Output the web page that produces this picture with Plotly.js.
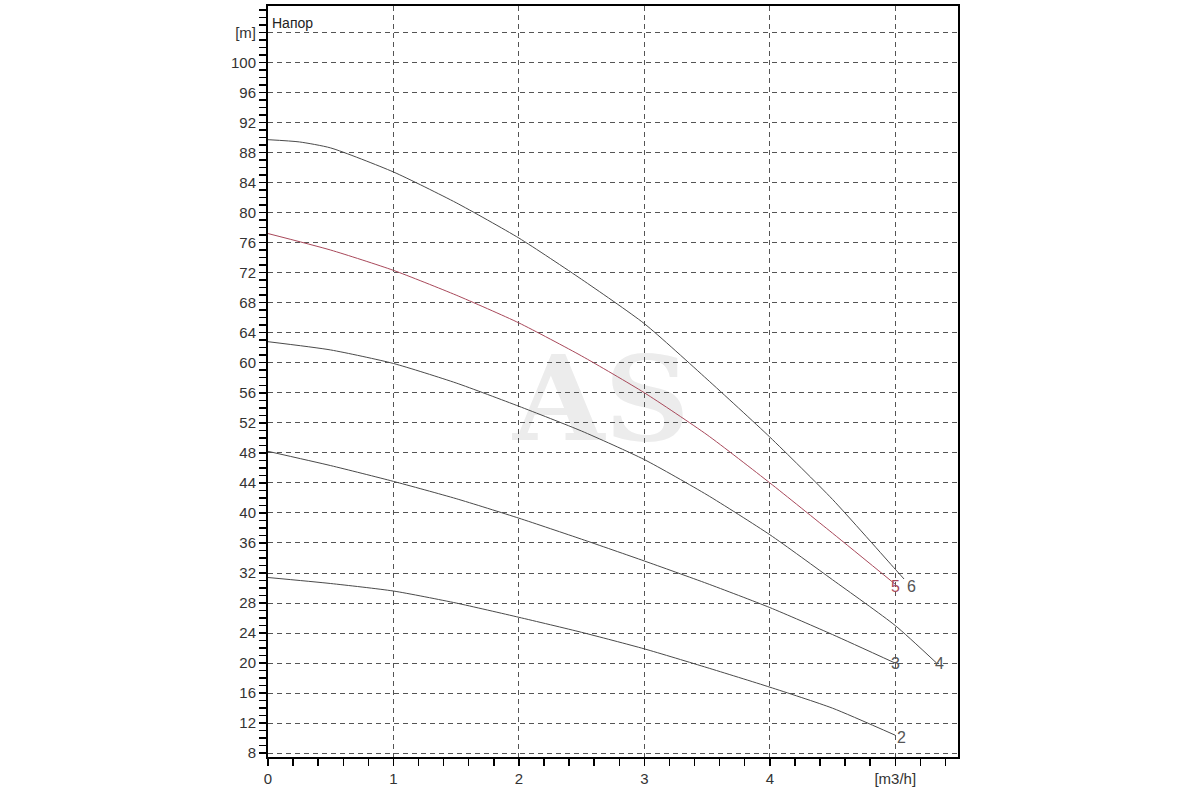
<!DOCTYPE html>
<html>
<head>
<meta charset="utf-8">
<script src="https://cdn.plot.ly/plotly-3.0.1.min.js"></script>
<style>html,body{margin:0;padding:0;background:#fff;}#chart{width:1200px;height:800px;}</style>
</head>
<body>
<div id="chart"></div>
<script>
// Flow, m3/h
const q6 = [0, 0.25, 0.5, 1, 1.5, 2, 2.5, 3, 3.5, 4, 4.5, 5, 5.07];
const head6 = [89.7, 89.4, 88.6, 85.4, 81.3, 76.6, 71.1, 65.2, 57.8, 50.1, 41.8, 32.5, 31.2];

const q5 = [0, 0.5, 1, 1.5, 2, 2.5, 3, 3.5, 4, 4.5, 5];
const head5 = [77.2, 75.0, 72.3, 69.0, 65.3, 60.9, 56.0, 50.4, 44.0, 37.3, 30.5];

const q4 = [0, 0.5, 1, 1.5, 2, 2.5, 3, 3.5, 4, 4.5, 5, 5.33];
const head4 = [62.8, 61.7, 59.9, 57.3, 54.2, 50.9, 47.1, 42.4, 37.1, 31.1, 25.0, 20.0];

const q3 = [0, 0.5, 1, 1.5, 2, 2.5, 3, 3.5, 4, 4.5, 5];
const head3 = [48.2, 46.3, 44.2, 41.9, 39.3, 36.5, 33.6, 30.6, 27.4, 23.8, 20.0];

const q2 = [0, 0.5, 1, 1.5, 2, 2.5, 3, 3.5, 4, 4.5, 5];
const head2 = [31.4, 30.6, 29.6, 28.0, 26.1, 24.1, 21.9, 19.4, 16.8, 14.0, 10.4];

const curveNames = ["2", "3", "4", "5", "6"];

const yTickVals = [8,12,16,20,24,28,32,36,40,44,48,52,56,60,64,68,72,76,80,84,88,92,96,100,104];
const yTickText = ["8","12","16","20","24","28","32","36","40","44","48","52","56","60","64","68","72","76","80","84","88","92","96","100","[m]"];
const xTickVals = [0,1,2,3,4,5];
const xTickText = ["0","1","2","3","4","[m3/h]"];

const gray = "#4a4a4a";
const red = "#a8485a";

const series = [
  {x: q2, y: head2, c: gray, name: curveNames[0], dx: 6, dy: -2},
  {x: q3, y: head3, c: gray, name: curveNames[1], dx: 0, dy: 0},
  {x: q4, y: head4, c: gray, name: curveNames[2], dx: 3, dy: 0},
  {x: q5, y: head5, c: red,  name: curveNames[3], dx: 0, dy: -2},
  {x: q6, y: head6, c: gray, name: curveNames[4], dx: 7, dy: -7}
];

const traces = series.map(s => ({
  x: s.x, y: s.y, type: "scatter", mode: "lines",
  line: {color: s.c, width: 1, shape: "spline", smoothing: 0.6},
  hoverinfo: "skip", showlegend: false
}));

const annotations = series.map(s => ({
  x: s.x[s.x.length - 1], y: s.y[s.y.length - 1],
  xref: "x", yref: "y", text: s.name, showarrow: false,
  xanchor: "center", yanchor: "middle", xshift: s.dx, yshift: s.dy,
  font: {family: "Liberation Sans, Arial, sans-serif", size: 16, color: s.c === red ? red : "#555"}
}));

annotations.push({
  xref: "paper", yref: "paper", x: 0, y: 1, xanchor: "left", yanchor: "top",
  xshift: 2, yshift: -7, text: "Напор", showarrow: false,
  font: {family: "Liberation Sans, Arial, sans-serif", size: 14, color: "#222"}
});

const tickFont = {family: "Liberation Sans, Arial, sans-serif", size: 15, color: "#333"};

const layout = {
  width: 1200, height: 800,
  margin: {l: 268, r: 242, t: 6, b: 43, pad: 0},
  paper_bgcolor: "#ffffff", plot_bgcolor: "#ffffff",
  showlegend: false,
  xaxis: {
    range: [0, 5.5], tickmode: "array", tickvals: xTickVals, ticktext: xTickText,
    showline: true, linecolor: "#000", linewidth: 2, mirror: true,
    ticks: "outside", ticklen: 7, tickwidth: 1.5, tickcolor: "#000",
    minor: {dtick: 0.2, ticks: "outside", ticklen: 7, tickwidth: 1.5, tickcolor: "#000", showgrid: false},
    showgrid: true, gridcolor: "#555", gridwidth: 1, griddash: "5px,4px",
    zeroline: false, tickfont: tickFont, fixedrange: true
  },
  yaxis: {
    range: [7.5, 107.5], tickmode: "array", tickvals: yTickVals, ticktext: yTickText,
    showline: true, linecolor: "#000", linewidth: 2, mirror: true,
    ticks: "outside", ticklen: 7, tickwidth: 1.5, tickcolor: "#000",
    minor: {dtick: 1, tick0: 0, ticks: "outside", ticklen: 7, tickwidth: 1.5, tickcolor: "#000", showgrid: false},
    showgrid: true, gridcolor: "#555", gridwidth: 1, griddash: "5px,4px",
    zeroline: false, tickfont: tickFont, fixedrange: true
  },
  shapes: [{
    type: "rect", xref: "paper", yref: "paper", x0: 0.283, x1: 0.683, y0: 0.387, y1: 0.587,
    layer: "below", line: {width: 0}, fillcolor: "rgba(0,0,0,0)",
    label: {text: "<b>AS</b>", textposition: "middle center",
      font: {family: "DejaVu Serif, Liberation Serif, serif", size: 118, color: "#ececec"}}
  }],
  annotations: annotations
};

Plotly.newPlot("chart", traces, layout, {displayModeBar: false, staticPlot: true});
</script>
</body>
</html>
